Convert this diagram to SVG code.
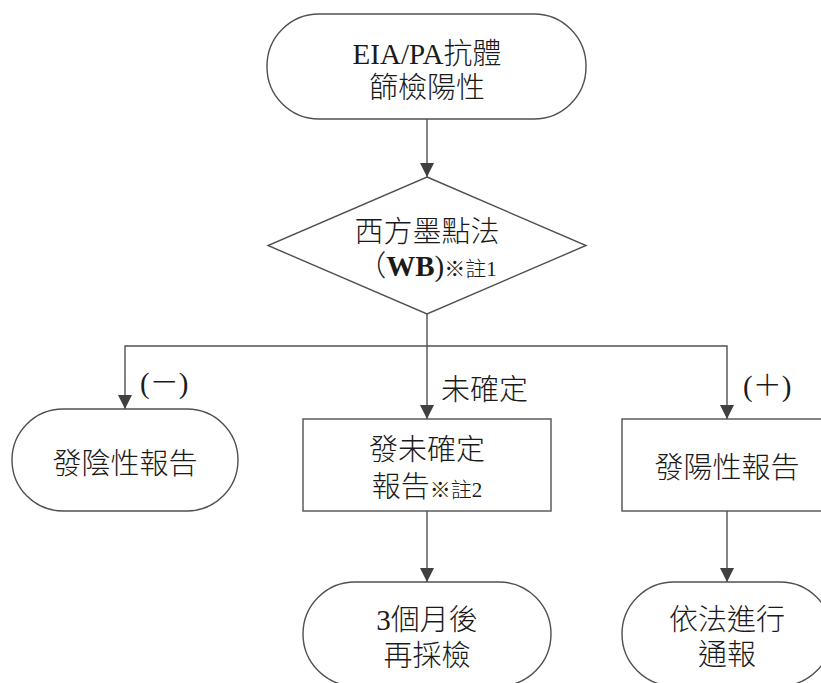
<svg xmlns="http://www.w3.org/2000/svg" width="821" height="683" viewBox="0 0 821 683">
<defs>
<marker id="arr" markerUnits="userSpaceOnUse" markerWidth="14" markerHeight="14" refX="14" refY="7" orient="auto">
<path d="M0,0 L14,7 L0,14 z" fill="#404040"/>
</marker>
<style>
.shape{fill:#ffffff;stroke:#505050;stroke-width:1.4}
.conn{fill:none;stroke:#505050;stroke-width:1.4}
text{font-family:"Liberation Serif","Noto Sans CJK TC",serif;font-size:29px;fill:#1a1a1a;font-weight:300}
.c{text-anchor:middle}
.sm{font-size:21px}
.b{font-weight:bold}
</style>
</defs>
<rect width="821" height="683" fill="#ffffff"/>
<g id="connectors">
<path class="conn" d="M427,119 V177" marker-end="url(#arr)"/>
<path class="conn" d="M427,314 V419" marker-end="url(#arr)"/>
<path class="conn" d="M427,346 H125 V409" marker-end="url(#arr)"/>
<path class="conn" d="M427,346 H727 V419" marker-end="url(#arr)"/>
<path class="conn" d="M427,511 V582" marker-end="url(#arr)"/>
<path class="conn" d="M727,511 V582" marker-end="url(#arr)"/>
<text x="140" y="393">(－)</text>
<text x="441" y="400">未確定</text>
<text x="743" y="396">(＋)</text>
</g>
<g id="start">
<rect class="shape" x="267" y="14" width="319" height="105" rx="52" ry="52"/>
<text class="c" x="427" y="64">EIA/PA抗體</text>
<text class="c" x="427" y="98">篩檢陽性</text>
</g>
<g id="wb">
<polygon class="shape" points="427,177 586,245.5 427,314 268,245.5"/>
<text class="c" x="427" y="242">西方墨點法</text>
<text class="c" x="427" y="276">（<tspan class="b">WB</tspan>)<tspan class="sm">※註1</tspan></text>
</g>
<g id="negative">
<rect class="shape" x="12" y="409" width="226" height="102" rx="51" ry="51"/>
<text class="c" x="125" y="474">發陰性報告</text>
</g>
<g id="undetermined">
<rect class="shape" x="303" y="419" width="248" height="92"/>
<text class="c" x="427" y="460">發未確定</text>
<text class="c" x="427" y="497">報告<tspan class="sm">※註2</tspan></text>
</g>
<g id="positive">
<rect class="shape" x="622" y="419" width="210" height="92"/>
<text class="c" x="727" y="478">發陽性報告</text>
</g>
<g id="retest">
<rect class="shape" x="303" y="582" width="248" height="104" rx="52" ry="52"/>
<text class="c" x="427" y="630">3個月後</text>
<text class="c" x="427" y="666">再採檢</text>
</g>
<g id="report">
<rect class="shape" x="622" y="582" width="210" height="104" rx="52" ry="52"/>
<text class="c" x="727" y="630">依法進行</text>
<text class="c" x="727" y="665">通報</text>
</g>
</svg>
